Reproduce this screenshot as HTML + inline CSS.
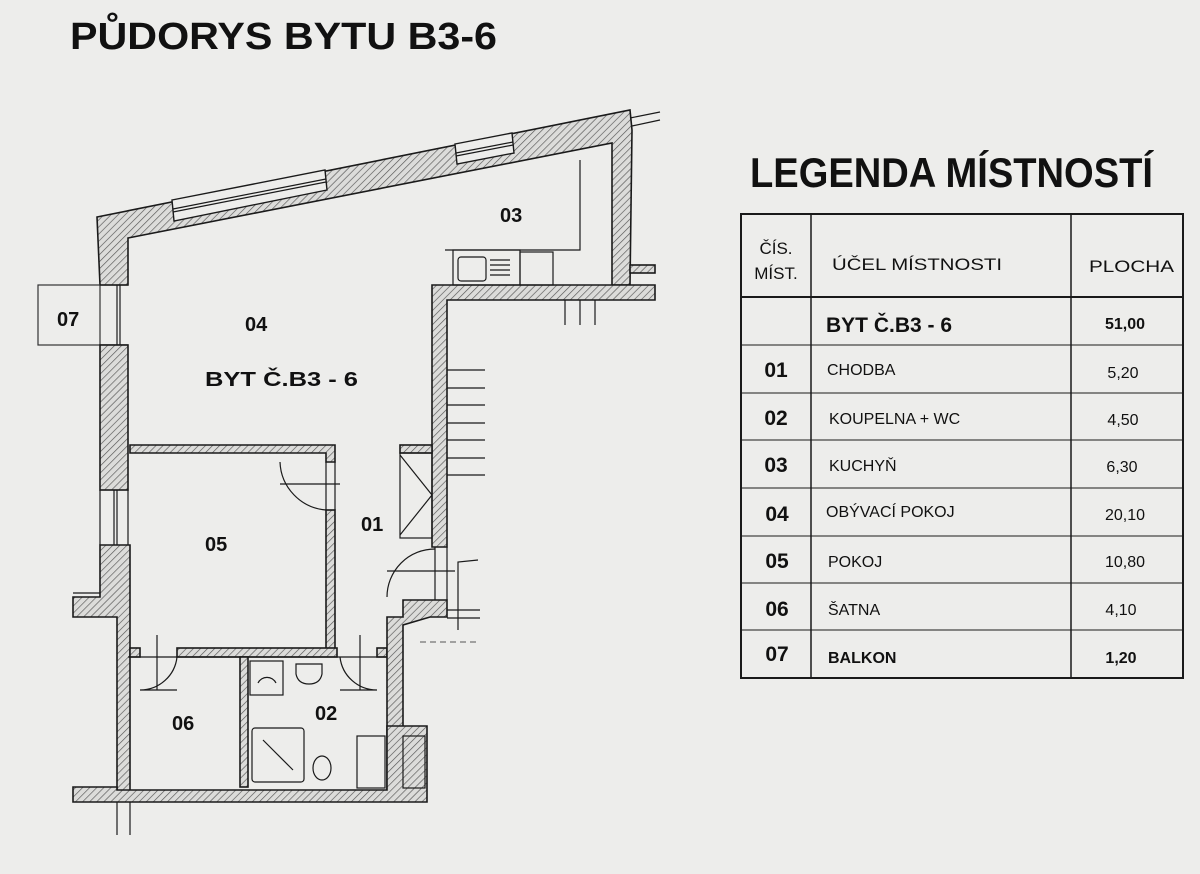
<!DOCTYPE html>
<html><head><meta charset="utf-8"><style>
html,body{margin:0;padding:0;background:#ededeb;}
body{width:1200px;height:874px;overflow:hidden;position:relative;font-family:"Liberation Sans",sans-serif;color:#111;}
svg{position:absolute;left:0;top:0;}
.w{fill:url(#h);stroke:#1a1a1a;stroke-width:1.6;}
.l{stroke:#1a1a1a;stroke-width:1.2;fill:none;}
.t{font-family:"Liberation Sans",sans-serif;font-weight:bold;fill:#111;}
.n{font-family:"Liberation Sans",sans-serif;fill:#111;}
</style></head><body>
<svg width="1200" height="874" viewBox="0 0 1200 874">
<defs>
<pattern id="h" patternUnits="userSpaceOnUse" width="5" height="5" patternTransform="rotate(45)">
<rect width="5" height="5" fill="#dcdcda"/>
<line x1="0" y1="0" x2="0" y2="5" stroke="#555" stroke-width="1.3"/>
</pattern>
</defs>
<text x="70" y="49" class="t" font-size="38" textLength="427" lengthAdjust="spacingAndGlyphs">PŮDORYS BYTU B3-6</text>
<text x="750" y="187" class="t" font-size="42" textLength="403" lengthAdjust="spacingAndGlyphs">LEGENDA MÍSTNOSTÍ</text>

<polygon class="w" points="97,217 630,110 632,130 630,285 612,285 612,143 128,238 128,285 100,285"/>
<polygon points="172,200 325,170 327,190 174,221" fill="#ededeb" stroke="#1a1a1a" stroke-width="1.4"/>
<line class="l" x1="173" y1="209" x2="326" y2="179"/><line class="l" x1="173" y1="212" x2="326" y2="182"/>
<polygon points="455,144 512,133 514,153 457,164" fill="#ededeb" stroke="#1a1a1a" stroke-width="1.4"/>
<line class="l" x1="456" y1="153" x2="513" y2="142"/><line class="l" x1="456" y1="156" x2="513" y2="145"/>
<line class="l" x1="630" y1="118" x2="660" y2="112"/><line class="l" x1="632" y1="126" x2="660" y2="120"/>

<rect x="38" y="285" width="62" height="60" fill="none" stroke="#333" stroke-width="1.2"/>
<line class="l" x1="100" y1="285" x2="128" y2="285"/><line class="l" x1="100" y1="345" x2="128" y2="345"/>
<line class="l" x1="117" y1="285" x2="117" y2="345"/><line class="l" x1="120" y1="285" x2="120" y2="345"/>
<rect class="w" x="100" y="345" width="28" height="145"/>
<line class="l" x1="100" y1="490" x2="100" y2="545"/><line class="l" x1="114" y1="490" x2="114" y2="545"/><line class="l" x1="117" y1="490" x2="117" y2="545"/><line class="l" x1="128" y1="490" x2="128" y2="545"/>
<polygon class="w" points="100,545 128,545 130,545 130,800 117,800 117,617 73,617 73,597 100,597"/>
<line class="l" x1="73" y1="593" x2="100" y2="593"/>
<polygon class="w" points="432,285 655,285 655,300 447,300 447,547 432,547"/>
<rect class="w" x="630" y="265" width="25" height="8"/>
<line class="l" x1="565" y1="300" x2="565" y2="325"/><line class="l" x1="580" y1="300" x2="580" y2="325"/><line class="l" x1="595" y1="300" x2="595" y2="325"/>
<g class="l"><line x1="447" y1="370" x2="485" y2="370"/><line x1="447" y1="388" x2="485" y2="388"/><line x1="447" y1="405" x2="485" y2="405"/><line x1="447" y1="423" x2="485" y2="423"/><line x1="447" y1="440" x2="485" y2="440"/><line x1="447" y1="458" x2="485" y2="458"/><line x1="447" y1="475" x2="485" y2="475"/></g>
<polyline class="l" points="580,160 580,250 445,250"/>
<rect class="l" x="453" y="250" width="67" height="35"/>
<rect class="l" x="520" y="252" width="33" height="33"/>
<rect class="l" x="458" y="257" width="28" height="24" rx="3"/>
<g class="l"><line x1="490" y1="260" x2="510" y2="260"/><line x1="490" y1="265" x2="510" y2="265"/><line x1="490" y1="270" x2="510" y2="270"/><line x1="490" y1="275" x2="510" y2="275"/></g>

<polygon class="w" points="130,445 335,445 335,462 326,462 326,453 130,453"/>
<rect class="w" x="326" y="510" width="9" height="143"/>
<line class="l" x1="335" y1="462" x2="335" y2="510"/><line class="l" x1="326" y1="462" x2="326" y2="510"/>
<path class="l" d="M280,462 A50,50 0 0 0 326,510"/><line class="l" x1="280" y1="484" x2="340" y2="484"/>
<rect class="w" x="130" y="648" width="10" height="9"/>
<rect class="w" x="177" y="648" width="160" height="9"/>
<rect class="w" x="377" y="648" width="10" height="9"/>
<line class="l" x1="128" y1="657" x2="390" y2="657"/>
<line class="l" x1="157" y1="635" x2="157" y2="690"/><path class="l" d="M140,690 L177,690 M140,690 A37,37 0 0 0 177,657"/>
<line class="l" x1="360" y1="635" x2="360" y2="690"/><path class="l" d="M377,690 L340,690 M377,690 A37,37 0 0 1 340,657"/>
<rect class="w" x="240" y="657" width="8" height="130"/>
<polygon class="w" points="387,617 403,617 403,600 447,600 447,617 430,617 403,625 403,800 387,800"/>
<polygon class="w" points="73,787 117,787 117,790 387,790 387,726 427,726 427,802 73,802"/>
<rect class="l" x="357" y="736" width="28" height="52" fill="#ededeb"/>
<rect class="l" x="403" y="736" width="22" height="52" fill="#ededeb"/>
<line class="l" x1="117" y1="802" x2="117" y2="835"/><line class="l" x1="130" y1="802" x2="130" y2="835"/>
<rect class="l" x="250" y="661" width="33" height="34"/>
<path class="l" d="M258,683 A10,10 0 0 1 276,683"/>
<path class="l" d="M296,664 L322,664 L322,674 Q320,684 309,684 Q298,684 296,674 Z"/>
<rect class="l" x="252" y="728" width="52" height="54" rx="3"/>
<line class="l" x1="263" y1="740" x2="293" y2="770"/>
<ellipse class="l" cx="322" cy="768" rx="9" ry="12"/>
<rect class="w" x="400" y="445" width="32" height="8"/>
<rect class="l" x="400" y="453" width="32" height="85"/>
<line class="l" x1="400" y1="455" x2="432" y2="495"/><line class="l" x1="400" y1="535" x2="432" y2="495"/>
<line class="l" x1="435" y1="547" x2="435" y2="600"/><line class="l" x1="447" y1="547" x2="447" y2="600"/>
<path class="l" d="M387,597 A48,48 0 0 1 435,549"/><line class="l" x1="387" y1="571" x2="455" y2="571"/>
<path class="l" d="M458,630 L458,562 L478,560"/>
<line class="l" x1="447" y1="610" x2="480" y2="610"/><line class="l" x1="447" y1="618" x2="480" y2="618"/>
<line x1="420" y1="642" x2="480" y2="642" stroke="#555" stroke-width="1" stroke-dasharray="6,4"/>

<g class="t" font-size="20">
<text x="57" y="326">07</text>
<text x="245" y="331">04</text>
<text x="205" y="386" textLength="153" lengthAdjust="spacingAndGlyphs">BYT Č.B3 - 6</text>
<text x="500" y="222">03</text>
<text x="205" y="551">05</text>
<text x="361" y="531">01</text>
<text x="172" y="730">06</text>
<text x="315" y="720">02</text>
</g>

<g stroke="#1a1a1a" fill="none">
<rect x="741" y="214" width="442" height="464" stroke-width="2"/>
<line x1="741" y1="297" x2="1183" y2="297" stroke-width="2"/>
<line x1="811" y1="214" x2="811" y2="678" stroke-width="1.5"/>
<line x1="1071" y1="214" x2="1071" y2="678" stroke-width="1.5"/>
<g stroke-width="1"><line x1="741" y1="345" x2="1183" y2="345"/><line x1="741" y1="393" x2="1183" y2="393"/><line x1="741" y1="440" x2="1183" y2="440"/><line x1="741" y1="488" x2="1183" y2="488"/><line x1="741" y1="536" x2="1183" y2="536"/><line x1="741" y1="583" x2="1183" y2="583"/><line x1="741" y1="630" x2="1183" y2="630"/></g>
</g>
<g class="n" font-size="17">
<text x="776" y="254" text-anchor="middle">ČÍS.</text>
<text x="776" y="279" text-anchor="middle">MÍST.</text>
<text x="832" y="270" textLength="170" lengthAdjust="spacingAndGlyphs">ÚČEL MÍSTNOSTI</text>
<text x="1089" y="272" textLength="85" lengthAdjust="spacingAndGlyphs">PLOCHA</text>
</g>
<text x="826" y="332" class="t" font-size="21">BYT Č.B3 - 6</text>
<text x="1105" y="329" class="t" font-size="16">51,00</text>
<g class="t" font-size="21" text-anchor="middle">
<text x="776" y="377">01</text><text x="776" y="425">02</text><text x="776" y="472">03</text><text x="777" y="521">04</text><text x="777" y="568">05</text><text x="777" y="616">06</text><text x="777" y="661">07</text>
</g>
<g class="n" font-size="16">
<text x="827" y="375">CHODBA</text><text x="829" y="424">KOUPELNA + WC</text><text x="829" y="471">KUCHYŇ</text><text x="826" y="517">OBÝVACÍ POKOJ</text><text x="828" y="567">POKOJ</text><text x="828" y="615">ŠATNA</text>
</g>
<text x="828" y="663" class="t" font-size="16">BALKON</text>
<g class="n" font-size="16" text-anchor="middle">
<text x="1123" y="378">5,20</text><text x="1123" y="425">4,50</text><text x="1122" y="472">6,30</text><text x="1125" y="520">20,10</text><text x="1125" y="567">10,80</text><text x="1121" y="615">4,10</text>
</g>
<text x="1121" y="663" class="t" font-size="16" text-anchor="middle">1,20</text>
</svg>
</body></html>
